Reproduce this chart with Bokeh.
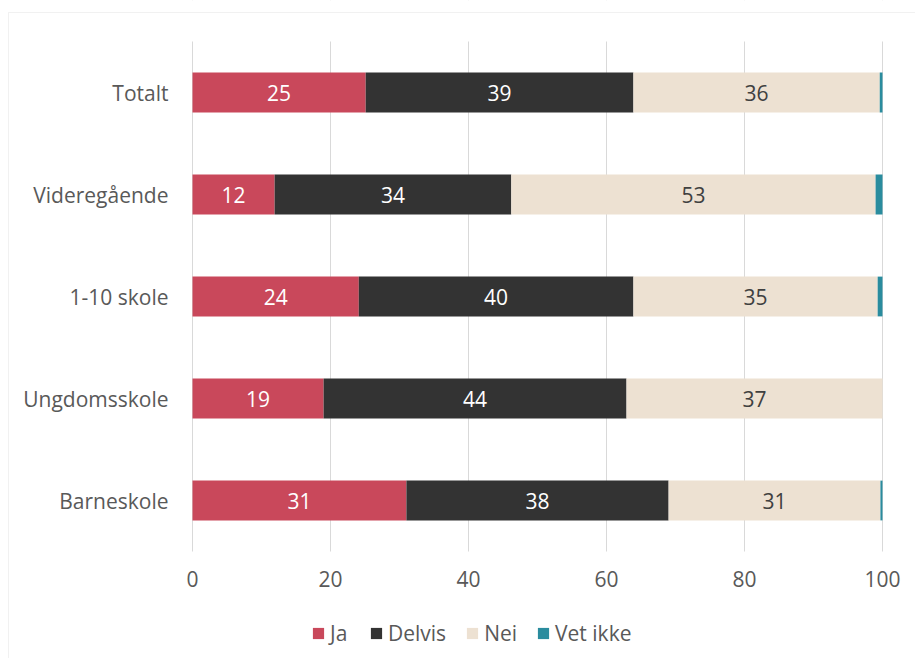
from bokeh.plotting import figure
from bokeh.models import (ColumnDataSource, Range1d, LabelSet, Legend, LegendItem,
                          FixedTicker, BoxAnnotation)
from bokeh.embed import file_html
from bokeh.resources import INLINE
from bokeh.core.properties import value

categories = ["Totalt", "Videregående", "1-10 skole", "Ungdomsskole", "Barneskole"]
ja = [25.1, 11.9, 24.1, 19.0, 31.0]
delvis = [38.8, 34.3, 39.8, 43.9, 38.0]
nei = [35.7, 52.8, 35.4, 37.1, 30.7]
vet_ikke = [0.4, 1.0, 0.7, 0.0, 0.3]
series = ["Ja", "Delvis", "Nei", "Vet ikke"]
colors = ["#C9485B", "#333333", "#EDE1D2", "#2A8C9E"]
x_ticks = [0, 20, 40, 60, 80, 100]

FONT = "Open Sans"
TXT = "#595959"
FS = "21px"

# layout (pixels in the canvas)
W, H = 915, 658
X0_PX, X100_PX = 192, 882       # where 0 and 100 fall
TOP_PX, BAND = 41, 102           # top of first band, px per category
n = len(categories)
ppu = (X100_PX - X0_PX) / 100.0
x_start = -X0_PX / ppu
x_end = 100 + (W - X100_PX) / ppu
y_end = (n - 0.5) + TOP_PX / BAND
y_start = y_end - H / BAND


def xpx(px):
    return x_start + px / ppu


def ypx(px):
    return y_end - px / BAND


ypos = [n - 1 - i for i in range(n)]  # Totalt at top

data = dict(y=ypos, Ja=ja, Delvis=delvis, Nei=nei)
data["Vet ikke"] = vet_ikke
src = ColumnDataSource(data)

p = figure(width=W, height=H, output_backend="svg", toolbar_location=None,
           y_range=Range1d(y_start, y_end), x_range=Range1d(x_start, x_end),
           min_border_left=0, min_border_right=0, min_border_top=0, min_border_bottom=0)

p.outline_line_color = None
p.ygrid.grid_line_color = None
p.xgrid.grid_line_color = "#d9d9d9"
p.xgrid.grid_line_width = 1

# restrict grid to the category area
p.add_layout(BoxAnnotation(top=-0.5, fill_color="white", fill_alpha=1, line_color=None,
                           level="underlay"))
p.add_layout(BoxAnnotation(bottom=n - 0.5, fill_color="white", fill_alpha=1, line_color=None,
                           level="underlay"))
# chart border (left and top visible)
p.add_layout(BoxAnnotation(left=xpx(8), top=ypx(12), right=x_end + 20, bottom=y_start - 5,
                           fill_alpha=0, line_color="#d0d0d0", line_width=1, level="overlay"))

renderers = p.hbar_stack(series, y="y", height=0.39, color=colors, source=src, line_color=None)

# value labels
starts = [0.0] * n
for name, vals, col in [("Ja", ja, "white"), ("Delvis", delvis, "white"), ("Nei", nei, "#404040")]:
    mids = [s + v / 2 for s, v in zip(starts, vals)]
    texts = [str(int(round(v))) for v in vals]
    ls = ColumnDataSource(dict(x=mids, y=ypos, t=texts))
    p.add_layout(LabelSet(x="x", y="y", text="t", source=ls, text_align="center",
                          text_baseline="middle", text_color=col, text_font_size=FS,
                          text_font=value(FONT)))
    starts = [s + v for s, v in zip(starts, vals)]

p.xaxis.ticker = FixedTicker(ticks=x_ticks)
p.xaxis.fixed_location = -0.5
p.yaxis.ticker = FixedTicker(ticks=ypos)
p.yaxis.fixed_location = 0
p.yaxis.major_label_overrides = {yv: c for yv, c in zip(ypos, categories)}
for ax in (p.xaxis[0], p.yaxis[0]):
    ax.axis_line_color = None
    ax.major_tick_line_color = None
    ax.minor_tick_line_color = None
    ax.major_tick_out = 0
    ax.major_tick_in = 0
    ax.major_label_text_font = FONT
    ax.major_label_text_font_size = FS
    ax.major_label_text_color = TXT
p.xaxis.major_label_standoff = 19
p.yaxis.major_label_standoff = 24

legend = Legend(items=[LegendItem(label=s, renderers=[r]) for s, r in zip(series, renderers)],
                orientation="horizontal", location=(311, 11),
                glyph_width=14, glyph_height=14, label_standoff=5, spacing=19,
                label_text_font=FONT, label_text_font_size=FS, label_text_color=TXT,
                border_line_color=None, background_fill_alpha=0, padding=0, margin=0,
                label_height=20)
p.add_layout(legend, "center")

open("out.html", "w").write(file_html(p, INLINE))
